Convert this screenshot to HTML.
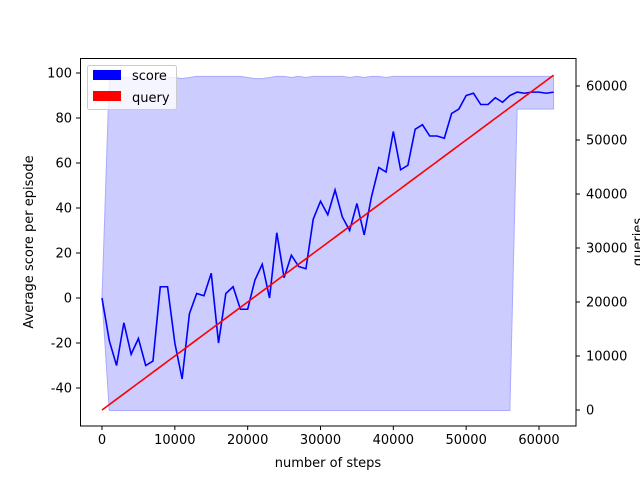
<!DOCTYPE html>
<html><head><meta charset="utf-8"><style>
body{margin:0;background:#fff}
svg{font-family:"DejaVu Sans","Liberation Sans",sans-serif}
</style></head><body>
<svg width="640" height="480" viewBox="0 0 640 480">
<g id="g"></g>
</svg>
<script>
const steps=[];for(let i=0;i<=62;i++)steps.push(i*1000);
const score=[0,-19,-30,-11,-25,-18,-30,-28,5,5,-20,-36,-7,2,1,11,-20,2,5,-5,-5,8,15,0,29,9,19,14,13,35,43,37,48,36,30,42,28,45,58,56,74,57,59,75,77,72,72,71,82,84,90,91,86,86,89,87,90,91.5,91,91.5,91.5,91,91.5];
const upper=[0,97.5,98,98,98,98,98,98,98,98,98,97.5,98,98.5,98.5,98.5,98.5,98.5,98.5,98.5,98,97.5,97.5,98,98.5,98.5,98,98.5,98,98.5,98.5,98.5,98.5,98.5,98,98.5,98,98.5,98.5,98,98.5,98.5,98.5,98.5,98.5,98.5,98.5,98.5,98.5,98.5,98.5,98.5,98.5,98.5,98.5,98.5,98.5,98.5,98.5,98.5,98.5,98.5,98.5];
const lower=[0,-50,-50,-50,-50,-50,-50,-50,-50,-50,-50,-50,-50,-50,-50,-50,-50,-50,-50,-50,-50,-50,-50,-50,-50,-50,-50,-50,-50,-50,-50,-50,-50,-50,-50,-50,-50,-50,-50,-50,-50,-50,-50,-50,-50,-50,-50,-50,-50,-50,-50,-50,-50,-50,-50,-50,-50,84,84,84,84,84,84];
const queries=steps.map(s=>s);
const xTicks=[0,10000,20000,30000,40000,50000,60000];
const yTicks=[-40,-20,0,20,40,60,80,100];
const y2Ticks=[0,10000,20000,30000,40000,50000,60000];

const X=v=>102+v*437/60000;
const Y=v=>298-v*2.25;
const Y2=v=>410-v*324/60000;
const g=document.getElementById('g');
const NS='http://www.w3.org/2000/svg';
function mk(t,a,p){const e=document.createElementNS(NS,t);for(const k in a)e.setAttribute(k,a[k]);(p||g).appendChild(e);return e;}
const FS=13;

let d='M'+steps.map((s,i)=>X(s)+','+Y(upper[i])).join('L');
for(let i=steps.length-1;i>=0;i--)d+='L'+X(steps[i])+','+Y(lower[i]);
let band=mk('path',{d:d+'Z',fill:'#ccccff',stroke:'#aaaaff','stroke-width':1});



let sl=mk('path',{d:'M'+steps.map((s,i)=>X(s)+','+Y(score[i])).join('L'),fill:'none',stroke:'#0000ff','stroke-width':1.6});



let ql=mk('path',{d:'M'+steps.map((s,i)=>X(s)+','+Y2(queries[i])).join('L'),fill:'none',stroke:'#ff0000','stroke-width':1.6});



let fr=mk('rect',{x:80.5,y:58.5,width:495.5,height:367.5,fill:'none',stroke:'#000','stroke-width':1});



xTicks.forEach(v=>{mk('line',{x1:X(v),x2:X(v),y1:426,y2:430,stroke:'#000'});
 const t=mk('text',{x:X(v),y:444,'font-size':FS,'text-anchor':'middle'});t.textContent=v;
 
 });
yTicks.forEach(v=>{mk('line',{x1:76,x2:80,y1:Y(v),y2:Y(v),stroke:'#000'});
 const t=mk('text',{x:72,y:Y(v)+4.5,'font-size':FS,'text-anchor':'end'});t.textContent=v;
 
 });
y2Ticks.forEach(v=>{mk('line',{x1:576,x2:580,y1:Y2(v),y2:Y2(v),stroke:'#000'});
 const t=mk('text',{x:586,y:Y2(v)+4.5,'font-size':FS,'text-anchor':'start'});t.textContent=v;
 
 });

let xt=mk('text',{x:328,y:467,'font-size':FS,'text-anchor':'middle'});xt.textContent='number of steps';


let yt=mk('text',{x:33,y:242,'font-size':FS,'text-anchor':'middle',transform:'rotate(-90 33 242)'});yt.textContent='Average score per episode';


let y2t=mk('text',{x:642,y:242,'font-size':FS,'text-anchor':'middle',transform:'rotate(-90 642 242)'});y2t.textContent='queries';



let lg=mk('g',{});


mk('rect',{x:87.5,y:65.5,width:89,height:44,rx:2,fill:'#fff','fill-opacity':0.8,stroke:'#ccc'},lg);
mk('rect',{x:93,y:70,width:28,height:10,fill:'#0000ff'},lg);
mk('rect',{x:93,y:91,width:28,height:10,fill:'#ff0000'},lg);
let l1=mk('text',{x:132,y:80,'font-size':FS},lg);l1.textContent='score';


let l2=mk('text',{x:132,y:102,'font-size':FS},lg);l2.textContent='query';


</script>
</body></html>
